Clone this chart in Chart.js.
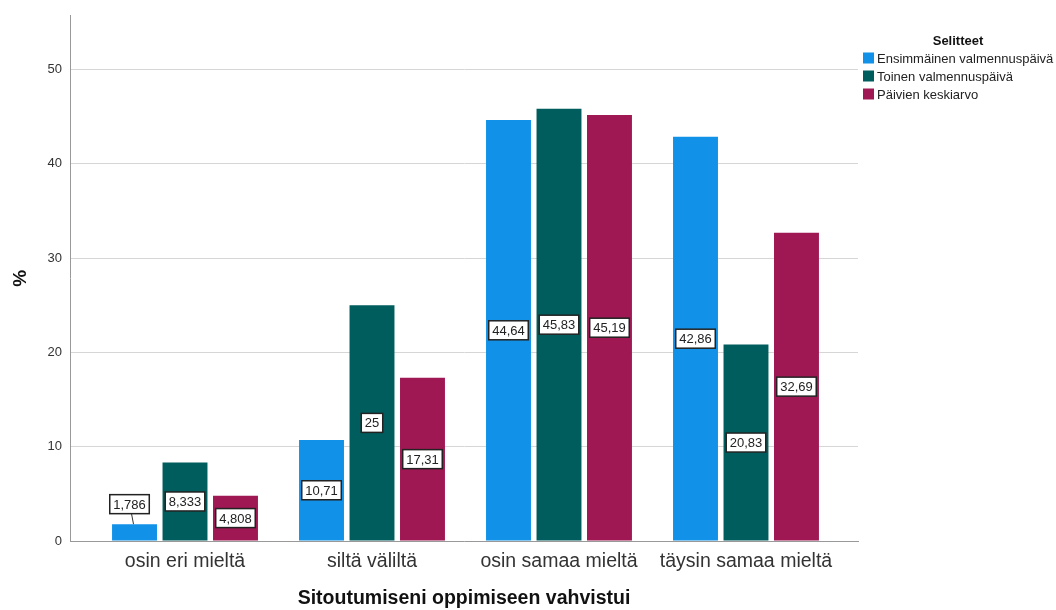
<!DOCTYPE html>
<html>
<head>
<meta charset="utf-8">
<script src="https://cdn.jsdelivr.net/npm/chart.js@4"></script>
<style>
  html, body { margin: 0; padding: 0; background: #fff; }
  #wrap { width: 1056px; height: 610px; }
</style>
</head>
<body>
<div id="wrap"><canvas id="chart" width="1056" height="610"></canvas></div>
<script>
// ---- data ----
const categories = ["osin eri mieltä", "siltä väliltä", "osin samaa mieltä", "täysin samaa mieltä"];
const seriesNames = ["Ensimmäinen valmennuspäivä", "Toinen valmennuspäivä", "Päivien keskiarvo"];
const firstDay = [1.786, 10.71, 44.64, 42.86];
const secondDay = [8.333, 25, 45.83, 20.83];
const dayAverage = [4.808, 17.31, 45.19, 32.69];
const yTickValues = [0, 10, 20, 30, 40, 50];

const seriesColors = ["#1192e8", "#005d5d", "#9f1853"];
const FONT = "'Liberation Sans', Arial, sans-serif";

// Finnish style number: 4 significant digits, comma decimal
function fmt(v) {
  return String(parseFloat(v.toPrecision(4))).replace(".", ",");
}

// value labels in white boxes, centred in the bar (or above if the bar is too short)
const valueLabels = {
  id: "valueLabels",
  afterDatasetsDraw(chart) {
    const ctx = chart.ctx;
    ctx.save();
    ctx.font = "13px " + FONT;
    ctx.textAlign = "center";
    ctx.textBaseline = "middle";
    chart.data.datasets.forEach((ds, di) => {
      const meta = chart.getDatasetMeta(di);
      meta.data.forEach((bar, i) => {
        const text = fmt(ds.data[i].y);
        const w = ctx.measureText(text).width + 7;
        const h = 19;
        const barH = bar.base - bar.y;
        let cy = (bar.y + bar.base) / 2;
        let x = bar.x;
        let above = false;
        if (barH < h + 2) { cy = bar.y - 20; x = bar.x - 5; above = true; }
        if (above) {
          ctx.strokeStyle = "#333";
          ctx.lineWidth = 1;
          ctx.beginPath();
          ctx.moveTo(x + 2, cy + h / 2);
          ctx.lineTo(x + 4, bar.y);
          ctx.stroke();
        }
        ctx.fillStyle = "#fff";
        ctx.fillRect(x - w / 2, cy - h / 2, w, h);
        ctx.strokeStyle = "#222";
        ctx.lineWidth = 1.5;
        ctx.strokeRect(x - w / 2, cy - h / 2, w, h);
        ctx.fillStyle = "#222";
        ctx.fillText(text, x, cy + 1);
      });
    });
    ctx.restore();
  }
};

// legend box on the right
const sideLegend = {
  id: "sideLegend",
  afterDraw(chart) {
    const ctx = chart.ctx;
    ctx.save();
    ctx.fillStyle = "#111";
    ctx.font = "bold 13px " + FONT;
    ctx.textAlign = "center";
    ctx.textBaseline = "middle";
    ctx.fillText("Selitteet", 958, 41);
    ctx.font = "13px " + FONT;
    ctx.textAlign = "left";
    seriesNames.forEach((name, i) => {
      const y = 58 + i * 18;
      ctx.fillStyle = seriesColors[i];
      ctx.fillRect(863, y - 5.5, 11, 11);
      ctx.fillStyle = "#222";
      ctx.fillText(name, 877, y + 1);
    });
    ctx.restore();
  }
};

function toPoints(values) {
  return values.map((v, i) => ({ x: i, y: v }));
}

const chart = new Chart(document.getElementById("chart"), {
  type: "bar",
  data: {
    datasets: [firstDay, secondDay, dayAverage].map((vals, i) => ({
      label: seriesNames[i],
      data: toPoints(vals),
      backgroundColor: seriesColors[i],
      borderWidth: 0,
      categoryPercentage: 0.81,
      barPercentage: 0.89
    }))
  },
  options: {
    responsive: false,
    devicePixelRatio: 1,
    animation: false,
    layout: { padding: { top: 15, right: 198, left: 0, bottom: 0 } },
    plugins: {
      legend: { display: false },
      tooltip: { enabled: false }
    },
    scales: {
      x: {
        type: "linear",
        offset: false,
        min: -0.615,
        max: 3.599,
        afterBuildTicks: (scale) => { scale.ticks = categories.map((c, i) => ({ value: i })); },
        afterFit: (scale) => { scale.height = 69; },
        grid: { display: false, drawTicks: false, offset: false },
        border: { display: true, color: "#999", width: 1 },
        ticks: {
          padding: 9,
          color: "#333",
          font: { family: FONT, size: 19.5 },
          callback: (v) => categories[v] || ""
        },
        title: {
          display: true,
          text: "Sitoutumiseni oppimiseen vahvistui",
          color: "#111",
          font: { family: FONT, size: 19.5, weight: "bold" },
          padding: { top: 0, bottom: 0 }
        }
      },
      y: {
        min: 0,
        max: 55.7,
        afterBuildTicks: (scale) => { scale.ticks = yTickValues.map(v => ({ value: v })); },
        afterFit: (scale) => { scale.width = 70; },
        grid: { color: "#d6d6d6", lineWidth: 1, drawTicks: false },
        border: { display: true, color: "#999", width: 1 },
        ticks: {
          padding: 8,
          color: "#333",
          font: { family: FONT, size: 13 }
        },
        title: {
          display: true,
          text: "%",
          color: "#111",
          font: { family: FONT, size: 19, weight: "bold" },
          padding: { top: 9, bottom: 0 }
        }
      }
    }
  },
  plugins: [valueLabels, sideLegend]
});
</script>
</body>
</html>
